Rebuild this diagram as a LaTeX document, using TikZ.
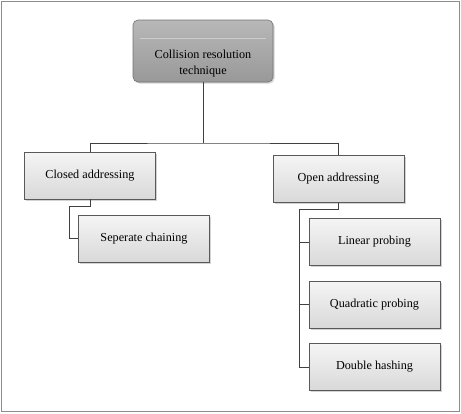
\documentclass[tikz,border=0pt]{standalone}
\usepackage{fontspec}
\setmainfont{Liberation Serif}
\usetikzlibrary{shadows,positioning}

\tikzset{
  leafbox/.style={draw=black!65, line width=0.6pt, minimum width=131pt, minimum height=47pt,
    top color=black!4, bottom color=black!15, inner sep=0pt,
    drop shadow={shadow xshift=1.5pt, shadow yshift=-1.5pt, opacity=0.35},
    font=\fontsize{12.2}{14}\selectfont},
  rootbox/.style={draw=black!55, line width=0.6pt, rounded corners=5pt, minimum width=140pt,
    minimum height=62pt, top color=black!28, bottom color=black!40,
    drop shadow={shadow xshift=1.5pt, shadow yshift=-1.5pt, opacity=0.35}},
  roottext/.style={align=center, font=\fontsize{12.2}{16}\selectfont, inner sep=0pt},
  link/.style={draw=black!75, line width=0.7pt}
}

\begin{document}
\begin{tikzpicture}[x=1pt, y=-1pt]
    \useasboundingbox (0,0) rectangle (461,413);
    % outer frame
    \draw[black!45, line width=1.2pt] (1.5,1.5) rectangle (459.5,411.5);

    % root
    \node[rootbox] (root) at (203,51) {};
    \draw[black!20, line width=0.6pt] ([xshift=7pt,yshift=-19pt]root.north west) -- ([xshift=-7pt,yshift=-19pt]root.north east);
    \node[roottext] (roottxt) at ([yshift=-13pt]root.center) {Collision resolution\\technique};

    % second level
    \node[leafbox] (closed) at (90,175.5) {Closed addressing};
    \node[leafbox] (open) at (338.5,179) {Open addressing};

    % leaves
    \node[leafbox] (chain) at (144,238.5) {Seperate chaining};
    \node[leafbox] (linear) at (374.5,242) {Linear probing};
    \node[leafbox] (quad) at (374.5,304.5) {Quadratic probing};
    \node[leafbox] (double) at (374.5,367) {Double hashing};

    % connectors
    \coordinate (bus) at (203,143);
    \coordinate (cjoint) at (69,206);
    \coordinate (ojoint) at (299,209);
    \draw[link] (root.south) -- (bus);
    \draw[link] (closed.north) |- (bus) -| (open.north);
    \draw[link] (closed.south) |- (cjoint) |- (chain.west);
    \draw[link] (open.south) |- (ojoint) |- (double.west);
    \draw[link] (ojoint) |- (linear.west);
    \draw[link] (ojoint) |- (quad.west);
\end{tikzpicture}
\end{document}
